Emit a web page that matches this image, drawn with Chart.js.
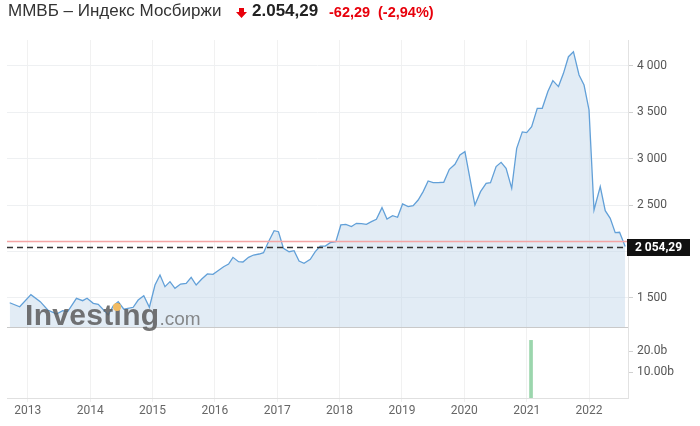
<!DOCTYPE html>
<html>
<head>
<meta charset="utf-8">
<script src="https://cdn.jsdelivr.net/npm/chart.js@4.4.1/dist/chart.umd.min.js"></script>
<style>
  html, body { margin: 0; padding: 0; background: #fff; }
  #wrap { position: relative; width: 700px; height: 426px; overflow: hidden; font-family: "Liberation Sans", Arial, sans-serif; }
  canvas { position: absolute; left: 0; }
  #c1 { top: 0; }
  #c2 { top: 328px; }
  .t { position: absolute; top: 1px; line-height: 20px; white-space: nowrap; }
  #title { left: 8px; font-size: 17px; color: #333; }
  #arrow { position: absolute; left: 236px; top: 8px; }
  #price { left: 252px; font-size: 17px; font-weight: bold; color: #222; }
  #chg { left: 329px; font-size: 14.5px; font-weight: bold; color: #e8000b; top: 2px; }
  #pct { left: 378px; font-size: 14.5px; font-weight: bold; color: #e8000b; top: 2px; }
  #wm { position: absolute; left: 25px; top: 298px; white-space: nowrap; pointer-events: none; }
  #wm .a { font-size: 30px; font-weight: bold; color: rgba(90,90,90,0.85); letter-spacing: 0.3px; }
  #wm .b { font-size: 19px; color: rgba(110,110,110,0.8); }
  #dot { position: absolute; left: 113px; top: 303px; width: 8px; height: 8px; border-radius: 50%; background: #f2bb62; }
</style>
</head>
<body>
<div id="wrap">
  <canvas id="c1" width="700" height="328"></canvas>
  <canvas id="c2" width="700" height="98"></canvas>
  <div class="t" id="title">ММВБ – Индекс Мосбиржи</div>
  <svg id="arrow" width="11" height="10" viewBox="0 0 11 10"><polygon points="3,0 8,0 8,4 11,4 5.5,10 0,4 3,4" fill="#e8000b"/></svg>
  <div class="t" id="price">2.054,29</div>
  <div class="t" id="chg">-62,29</div>
  <div class="t" id="pct">(-2,94%)</div>
  <div id="wm"><span class="a">Investing</span><span class="b">.com</span></div>
  <div id="dot"></div>
</div>
<script>
// ---- data ----
const priceDates = [
  2012.71, 2012.87, 2013.05, 2013.20, 2013.32, 2013.46, 2013.56, 2013.64, 2013.78, 2013.88,
  2013.95, 2014.05, 2014.13, 2014.29, 2014.37, 2014.45, 2014.54, 2014.69, 2014.77, 2014.86,
  2014.95, 2015.04, 2015.12, 2015.20, 2015.28, 2015.36, 2015.45, 2015.54, 2015.62, 2015.70,
  2015.79, 2015.88, 2015.97, 2016.05, 2016.14, 2016.22, 2016.29, 2016.38, 2016.45, 2016.54,
  2016.62, 2016.71, 2016.78, 2016.86, 2016.95, 2017.02, 2017.10, 2017.19, 2017.27, 2017.35,
  2017.43, 2017.53, 2017.61, 2017.69, 2017.77, 2017.85, 2017.94, 2018.02, 2018.10, 2018.19,
  2018.27, 2018.35, 2018.43, 2018.51, 2018.59, 2018.68, 2018.76, 2018.85, 2018.93, 2019.01,
  2019.10, 2019.18, 2019.26, 2019.34, 2019.42, 2019.50, 2019.58, 2019.67, 2019.76, 2019.85,
  2019.93, 2020.01, 2020.17, 2020.26, 2020.35, 2020.42, 2020.51, 2020.59, 2020.67, 2020.76,
  2020.84, 2020.93, 2021.00, 2021.08, 2021.17, 2021.25, 2021.34, 2021.42, 2021.51, 2021.59,
  2021.67, 2021.75, 2021.84, 2021.92, 2022.00, 2022.08, 2022.18, 2022.26, 2022.34, 2022.42,
  2022.49, 2022.58
];
const priceValues = [
  1449, 1405, 1536, 1461, 1371, 1328, 1364, 1353, 1497, 1471,
  1497, 1443, 1432, 1317, 1414, 1461, 1379, 1400, 1478, 1525,
  1400, 1640, 1748, 1622, 1676, 1604, 1650, 1658, 1722, 1640,
  1705, 1759, 1755, 1794, 1837, 1866, 1938, 1891, 1888, 1938,
  1963, 1974, 1988, 2107, 2225, 2214, 2035, 1999, 2010, 1899,
  1874, 1917, 1999, 2060, 2060, 2096, 2107, 2287, 2294, 2269,
  2305, 2301, 2294, 2323, 2348, 2474, 2351, 2387, 2370, 2513,
  2484, 2495, 2556, 2646, 2761, 2743, 2743, 2747, 2887, 2941,
  3041, 3077, 2502, 2646, 2736, 2743, 2916, 2962, 2898, 2682,
  3113, 3290, 3282, 3345, 3544, 3544, 3724, 3842, 3778, 3921,
  4100, 4154, 3903, 3795, 3526, 2448, 2700, 2441, 2359, 2204,
  2208, 2054.29
];
const lastValue = 2054.29;
const prevClose = 2116.58;
const volumeDates = [2021.07];
const volumeValues = [25.1e9];
const yearTicks = [2013, 2014, 2015, 2016, 2017, 2018, 2019, 2020, 2021, 2022];
const priceTicks = [1500, 2000, 2500, 3000, 3500, 4000];
const hiddenPriceTicks = [2000];
const volumeTicks = [10e9, 20e9];
const volumeTickLabels = ['10.00b', '20.0b'];

// ---- config ----
Chart.defaults.font.family = 'Roboto, "Liberation Sans", Arial, sans-serif';
Chart.defaults.font.size = 12;
Chart.defaults.animation = false;

const X_MIN = 2012.6665, X_MAX = 2022.625;
const fmtSpace = v => String(v).replace(/\B(?=(\d{3})+(?!\d))/g, ' ');
const fmtPrice = v => v.toFixed(2).replace('.', ',').replace(/\B(?=(\d{3})+(?!\d))/g, ' ');
const noPad = s => { s.paddingTop = 0; s.paddingBottom = 0; s.paddingLeft = 0; s.paddingRight = 0; };

const refLines = {
  id: 'refLines',
  afterDatasetsDraw(chart) {
    const { ctx, chartArea: a, scales: { y } } = chart;
    const yPrev = Math.round(y.getPixelForValue(prevClose)) + 0.5;
    const yLast = Math.round(y.getPixelForValue(lastValue)) + 0.5;
    ctx.save();
    ctx.lineWidth = 1.5;
    ctx.strokeStyle = '#f4a5a5';
    ctx.beginPath(); ctx.moveTo(a.left, yPrev); ctx.lineTo(a.right, yPrev); ctx.stroke();
    ctx.strokeStyle = '#333';
    ctx.setLineDash([6, 4]);
    ctx.beginPath(); ctx.moveTo(a.left, yLast); ctx.lineTo(a.right, yLast); ctx.stroke();
    ctx.restore();
  },
  afterDraw(chart) {
    const { ctx, chartArea: a, scales: { y } } = chart;
    const yLast = y.getPixelForValue(lastValue);
    ctx.save();
    ctx.fillStyle = '#111';
    ctx.fillRect(a.right - 1, Math.round(yLast) - 8, 63, 17);
    ctx.fillStyle = '#fff';
    ctx.font = 'bold 12px Roboto, Arial, sans-serif';
    ctx.textAlign = 'center';
    ctx.textBaseline = 'middle';
    ctx.fillText(fmtPrice(lastValue), a.right + 30.5, Math.round(yLast) + 1);
    ctx.restore();
  }
};

new Chart(document.getElementById('c1'), {
  type: 'line',
  data: {
    datasets: [{
      data: priceDates.map((d, i) => ({ x: d, y: priceValues[i] })),
      borderColor: '#62a0d8',
      borderWidth: 1.3,
      backgroundColor: 'rgba(190,212,232,0.45)',
      fill: 'start',
      pointRadius: 0,
      tension: 0
    }]
  },
  options: {
    responsive: false,
    layout: { padding: { top: 40, left: 7, right: 0, bottom: 1 } },
    plugins: { legend: { display: false }, tooltip: { enabled: false } },
    scales: {
      x: {
        type: 'linear', min: X_MIN, max: X_MAX,
        afterBuildTicks: s => { s.ticks = yearTicks.map(v => ({ value: v })); },
        afterFit: s => { s.height = 0; noPad(s); },
        ticks: { display: false },
        grid: { color: '#f1f1f1', drawTicks: false },
        border: { color: '#c9c9c9' }
      },
      y: {
        position: 'right', min: 1187.5, max: 4280,
        afterBuildTicks: s => { s.ticks = priceTicks.map(v => ({ value: v })); },
        afterFit: s => { s.width = 72; noPad(s); },
        ticks: { color: '#555', padding: 4, callback: v => hiddenPriceTicks.includes(v) ? '' : fmtSpace(v) },
        grid: { color: '#eef0f2', tickLength: 5, tickColor: '#d0d0d0' },
        border: { color: '#e2e2e2' }
      }
    }
  },
  plugins: [refLines]
});

new Chart(document.getElementById('c2'), {
  type: 'bar',
  data: {
    datasets: [{
      data: volumeDates.map((d, i) => ({ x: d, y: volumeValues[i] })),
      backgroundColor: '#9bd6ad',
      barThickness: 3,
      base: -2.4e9
    }]
  },
  options: {
    responsive: false,
    layout: { padding: { top: 0, left: 7, right: 0, bottom: 0 } },
    plugins: { legend: { display: false }, tooltip: { enabled: false } },
    scales: {
      x: {
        type: 'linear', min: X_MIN, max: X_MAX, offset: false,
        afterBuildTicks: s => { s.ticks = yearTicks.map(v => ({ value: v })); },
        afterFit: s => { s.height = 28; noPad(s); },
        ticks: { color: '#666', padding: 2, maxRotation: 0, autoSkip: false, callback: v => String(v) },
        grid: { color: '#f1f1f1', tickLength: 4, offset: false },
        border: { color: '#e0e0e0' }
      },
      y: {
        position: 'right', min: -2.4e9, max: 31e9,
        afterBuildTicks: s => { s.ticks = volumeTicks.map(v => ({ value: v })); },
        afterFit: s => { s.width = 72; noPad(s); },
        ticks: { color: '#555', padding: 4, callback: v => volumeTickLabels[volumeTicks.indexOf(v)] },
        grid: { drawOnChartArea: false, tickLength: 5, tickColor: '#d0d0d0' },
        border: { color: '#e2e2e2' }
      }
    }
  }
});
</script>
</body>
</html>
